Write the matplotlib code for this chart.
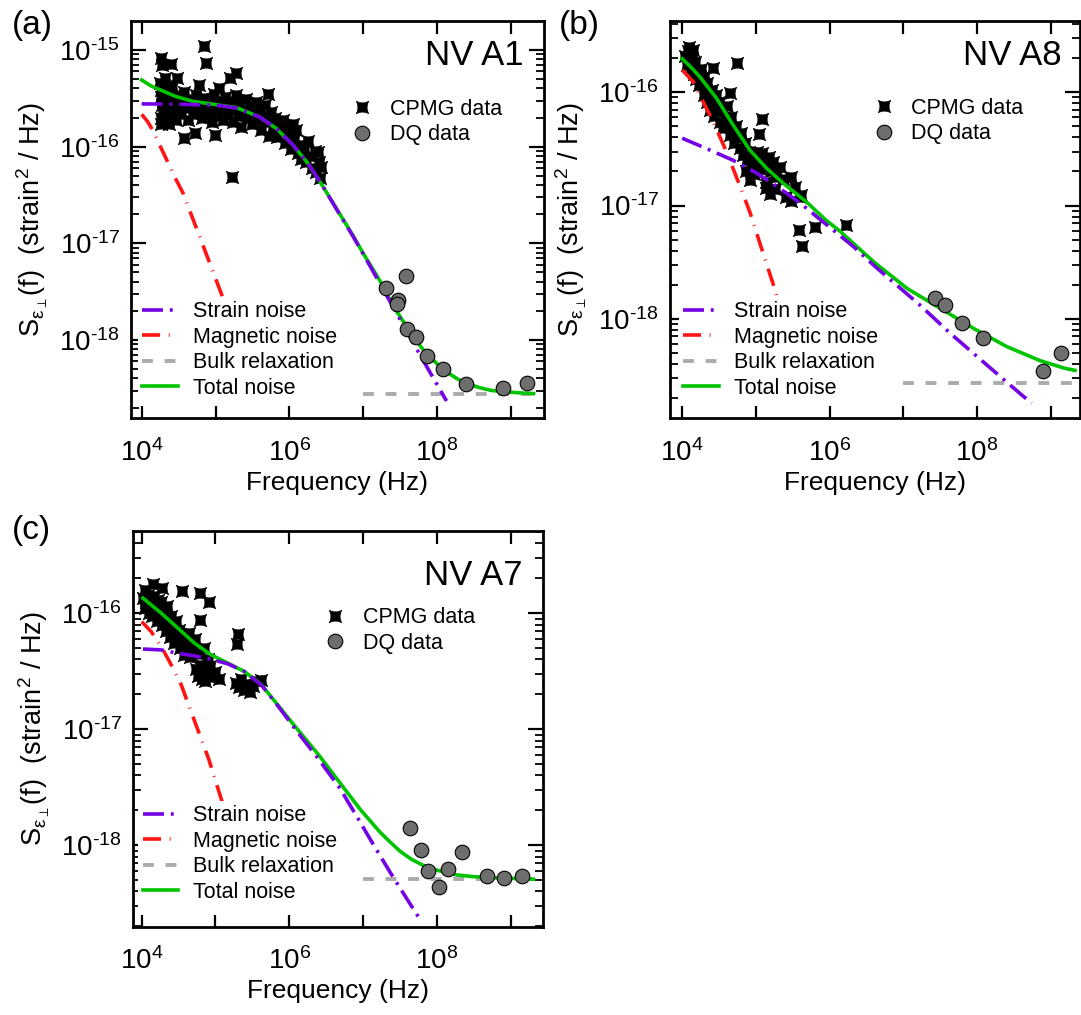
import numpy as np
import matplotlib
matplotlib.use('Agg')
import matplotlib.pyplot as plt
from matplotlib.path import Path
from matplotlib.ticker import FixedLocator, FuncFormatter, NullLocator, NullFormatter

plt.rcParams['font.family'] = ['Liberation Sans', 'DejaVu Sans']
plt.rcParams['mathtext.fontset'] = 'custom'
plt.rcParams['mathtext.rm'] = 'Liberation Sans'
plt.rcParams['mathtext.it'] = 'Liberation Sans:italic'
plt.rcParams['mathtext.bf'] = 'Liberation Sans:bold'
plt.rcParams['axes.unicode_minus'] = False

# ---------------- panel (a) : NV A1 ----------------
a_cpmg_f = [7.05e4, 7.4e4, 1.83e4, 1.86e4, 2.5e4, 1.9e5, 1.57e5, 2.1e4, 2.98e4, 2.13e4, 5.9e4, 1.12e5, 5.1e5,
            1.68e5, 1.83e4, 2.37e4, 3.78e4, 5.2e4, 9.9e4, 1.11e6, 9.0e5, 2.43e6,
            1.75e4, 1.8e4, 1.85e4, 1.9e4, 1.95e4, 2.0e4, 2.1e4, 2.2e4, 2.25e4, 2.3e4, 2.4e4, 2.5e4, 2.6e4,
            2.7e4, 2.8e4, 2.9e4, 3.0e4, 1.8e4,
            3.2e4, 3.4e4, 3.6e4, 3.8e4, 4.0e4, 4.2e4, 4.5e4, 4.8e4, 5.0e4, 5.4e4, 5.8e4, 6.2e4, 6.6e4, 7.0e4,
            7.5e4, 8.0e4, 8.5e4, 9.0e4, 9.5e4, 1.0e5, 1.05e5, 1.1e5, 1.2e5, 1.25e5,
            1.35e5, 1.4e5, 1.5e5, 1.6e5, 1.7e5, 1.8e5, 1.9e5, 2.0e5, 2.1e5, 2.25e5, 2.4e5, 2.6e5, 2.7e5, 2.9e5,
            3.1e5, 3.3e5, 3.5e5, 3.7e5,
            4.0e5, 4.2e5, 4.4e5, 4.7e5, 5.0e5, 5.3e5, 5.6e5, 6.0e5, 6.4e5, 6.8e5, 7.2e5,
            7.8e5, 8.2e5, 8.7e5, 9.3e5, 1.0e6, 1.05e6, 1.15e6, 1.25e6, 1.3e6, 1.4e6, 1.45e6,
            1.6e6, 1.7e6, 1.8e6, 1.9e6, 2.0e6, 2.2e6, 2.3e6, 2.5e6, 2.6e6, 2.7e6]
a_cpmg_s = np.array([11.1, 7.4, 8.2, 7.0, 7.1, 5.74, 5.1, 5.1, 5.1, 4.2, 4.3, 4.07, 3.48,
                     0.49, 1.72, 1.7, 1.22, 1.4, 1.33, 1.72, 1.5, 0.89,
                     4.6, 3.9, 3.3, 2.7, 2.3, 4.3, 3.6, 3.0, 2.5, 2.1, 3.4, 2.8, 4.1,
                     2.3, 3.1, 1.9, 2.6, 2.0,
                     3.4, 2.2, 2.9, 3.7, 2.5, 1.9, 3.1, 2.7, 2.2, 3.4, 2.4, 2.9, 2.0, 3.2,
                     2.6, 2.2, 2.9, 1.8, 3.5, 2.5, 2.1, 3.0, 2.4, 1.9,
                     3.3, 2.7, 2.2, 3.0, 1.8, 2.5, 3.4, 2.1, 2.8, 1.6, 2.4, 3.1, 2.0, 2.6,
                     1.7, 2.3, 2.9, 1.9,
                     2.5, 1.5, 2.1, 2.7, 1.8, 1.3, 2.3, 1.6, 2.0, 1.25, 1.75,
                     1.45, 1.9, 1.1, 1.6, 1.3, 0.95, 1.2, 1.5, 0.85, 1.05, 0.75,
                     0.95, 0.7, 1.15, 0.8, 0.6, 0.9, 0.55, 0.7, 0.47, 0.62]) * 1e-16
a_dq_f = [3.8e7, 2.04e7, 3.0e7, 2.85e7, 3.98e7, 5.2e7, 7.24e7, 1.22e8, 2.45e8, 7.94e8, 1.65e9]
a_dq_s = [4.63e-18, 3.47e-18, 2.57e-18, 2.34e-18, 1.30e-18, 1.08e-18, 6.84e-19, 5.06e-19, 3.52e-19, 3.2e-19, 3.63e-19]
a_strain_f = [1e4, 3.16e4, 9.1e4, 1.26e5, 1.9e5, 3.9e5, 6.6e5, 1.11e6, 1.86e6, 2.95e6, 4.47e6, 7.36e6, 1e7,
              1.7e7, 3.89e7, 6.17e7, 1.35e8]
a_strain_s = [2.77e-16, 2.75e-16, 2.69e-16, 2.63e-16, 2.51e-16, 2.04e-16, 1.55e-16, 1.05e-16, 6.46e-17, 3.72e-17,
              2.19e-17, 1.17e-17, 7.8e-18, 3.8e-18, 1.24e-18, 6.6e-19, 2.34e-19]
a_mag_f = [1e4, 1.2e4, 1.41e4, 1.74e4, 2.24e4, 2.92e4, 3.63e4, 6.3e4, 1.24e5, 4.54e5]
a_mag_s = [2.16e-16, 1.82e-16, 1.48e-16, 1.05e-16, 7.0e-17, 4.57e-17, 3.31e-17, 1.1e-17, 2.82e-18, 2.09e-19]
a_bulk_f = [1e7, 2.04e9]
a_bulk_s = [2.75e-19, 2.75e-19]
a_total_f = [1e4, 1.32e4, 1.74e4, 2.88e4, 4.9e4, 9.1e4, 1.9e5, 3.9e5, 6.6e5, 1.11e6, 1.86e6, 2.95e6, 4.47e6,
             7.36e6, 1e7, 1.7e7, 2.6e7, 3.89e7, 5.4e7, 7.24e7, 1.0e8, 1.35e8, 1.85e8, 2.51e8, 3.6e8, 5.25e8,
             8.5e8, 1.55e9, 2.04e9]
a_total_s = [4.9e-16, 4.27e-16, 3.9e-16, 3.31e-16, 2.95e-16, 2.75e-16, 2.54e-16, 2.04e-16, 1.55e-16, 1.05e-16,
             6.46e-17, 3.72e-17, 2.21e-17, 1.19e-17, 7.9e-18, 4.07e-18, 2.2e-18, 1.38e-18, 9.5e-19, 7.2e-19,
             5.7e-19, 4.68e-19, 4.0e-19, 3.55e-19, 3.25e-19, 3.02e-19, 2.9e-19, 2.82e-19, 2.79e-19]

# ---------------- panel (b) : NV A8 ----------------
b_cpmg_f = [1.1e4, 1.15e4, 1.2e4, 1.25e4, 1.3e4, 1.35e4, 1.4e4, 1.45e4, 1.5e4, 1.55e4, 1.6e4, 1.7e4, 1.75e4,
            1.8e4, 1.9e4, 1.95e4, 2.0e4, 2.1e4, 2.2e4, 2.2e4, 2.3e4, 2.4e4, 2.5e4, 2.6e4, 2.7e4, 2.8e4, 2.9e4,
            3.0e4, 3.2e4, 3.3e4, 3.5e4, 3.6e4, 3.8e4, 4.0e4, 4.2e4, 4.4e4, 4.6e4, 4.8e4, 5.0e4, 5.3e4, 5.6e4,
            6.0e4, 6.3e4, 6.7e4, 7.0e4, 7.5e4, 8.0e4, 8.5e4, 9.0e4, 9.5e4, 1.0e5, 1.05e5, 1.1e5, 1.15e5, 1.2e5,
            1.3e5, 1.35e5, 1.4e5, 1.5e5, 1.6e5, 1.7e5, 1.8e5, 1.9e5, 2.1e5, 2.3e5, 2.6e5, 3.0e5, 3.4e5, 4.0e5,
            1.23e4, 1.38e4, 2.6e4, 5.55e4, 4.4e4, 1.21e5, 1.09e5, 3.86e5, 6.3e5, 1.65e6, 4.16e5, 7.4e4, 8.25e4,
            1.39e5, 1.55e5, 3.0e5, 4.13e5]
b_cpmg_s = np.array([21, 17.5, 23, 19, 16, 20, 17, 14.5, 18.5, 13, 15.5, 11.5, 14,
                     16, 12, 9.5, 13.5, 10.5, 8.2, 12, 9.5, 7.0, 10.5, 8.5, 6.2, 7.8, 9.5,
                     6.8, 8.2, 5.5, 7.0, 4.8, 6.0, 7.5, 5.2, 4.2, 6.0, 4.6, 3.6, 5.0, 4.0,
                     3.2, 4.4, 2.8, 3.6, 2.5, 3.0, 2.2, 2.7, 1.9, 2.4, 3.0, 2.6, 2.1, 2.9,
                     2.5, 1.6, 2.2, 2.7, 2.0, 2.4, 1.4, 1.8, 2.2, 1.7, 1.2, 1.1, 1.45, 1.2,
                     25, 23.7, 16.3, 18.2, 9.8, 5.8, 4.25, 0.61, 0.65, 0.67, 0.44, 2.0, 1.68,
                     1.42, 1.27, 1.8, 1.24]) * 1e-17
b_dq_f = [2.7e7, 3.73e7, 6.34e7, 1.2e8, 7.94e8, 1.36e9]
b_dq_s = [1.54e-18, 1.32e-18, 9.2e-19, 6.8e-19, 3.47e-19, 4.97e-19]
b_strain_f = [1e4, 2.37e4, 4.9e4, 1.0e5, 2.0e5, 4.0e5, 7.33e5, 2.11e6, 4.16e6, 1.69e7, 4.33e7, 8.93e7,
              1.95e8, 4.05e8, 5.53e8]
b_strain_s = [3.93e-17, 3.09e-17, 2.51e-17, 1.95e-17, 1.45e-17, 1.05e-17, 7.6e-18, 4.34e-18, 2.89e-18, 1.32e-18,
              7.46e-19, 4.97e-19, 3.2e-19, 2.13e-19, 1.8e-19]
b_mag_f = [1e4, 1.41e4, 1.92e4, 2.63e4, 3.98e4, 5.74e4, 8.24e4, 1.25e5, 1.82e5, 5.0e5]
b_mag_s = [1.57e-16, 1.24e-16, 8.24e-17, 5.5e-17, 2.99e-17, 1.63e-17, 8.83e-18, 3.8e-18, 1.8e-18, 2.0e-19]
b_bulk_f = [1e7, 2.2e9]
b_bulk_s = [2.73e-19, 2.73e-19]
b_total_f = [1e4, 1.32e4, 1.73e4, 2.92e4, 4.9e4, 8.26e4, 1.39e5, 2.33e5, 4.83e5, 9.0e5, 1.4e6, 3.94e6, 1.12e7,
             3.16e7, 8.93e7, 2.54e8, 7.16e8, 1.56e9, 2.14e9]
b_total_s = [1.97e-16, 1.66e-16, 1.37e-16, 8.85e-17, 5.14e-17, 3.09e-17, 2.14e-17, 1.58e-17, 1.08e-17, 7.4e-18,
             5.9e-18, 3.2e-18, 1.86e-18, 1.24e-18, 8.26e-19, 5.69e-19, 4.28e-19, 3.66e-19, 3.51e-19]

# ---------------- panel (c) : NV A7 ----------------
c_cpmg_f = [1.05e4, 1.1e4, 1.1e4, 1.15e4, 1.2e4, 1.25e4, 1.3e4, 1.35e4, 1.4e4, 1.45e4, 1.5e4, 1.55e4, 1.6e4,
            1.65e4, 1.7e4, 1.8e4, 1.85e4, 1.9e4, 2.0e4, 2.1e4, 2.15e4, 2.2e4, 2.3e4, 2.4e4, 2.5e4, 2.6e4, 2.7e4,
            2.8e4, 2.9e4, 3.0e4, 3.2e4, 3.3e4, 3.5e4, 3.7e4, 3.8e4, 4.0e4, 4.2e4, 4.4e4, 4.5e4, 4.8e4, 5.0e4,
            5.3e4, 5.5e4, 5.8e4, 6.0e4, 6.2e4, 6.5e4, 6.8e4, 7.0e4, 7.2e4, 7.5e4, 7.8e4, 8.0e4, 8.5e4, 9.0e4,
            1.0e5, 1.1e5, 1.9e5, 2.1e5, 2.2e5, 2.4e5, 2.6e5, 2.9e5, 3.2e5, 3.5e5,
            1.43e4, 1.9e4, 3.55e4, 6.2e4, 8.2e4, 6.2e4, 2.0e5, 1.95e5, 4.17e5]
c_cpmg_s = np.array([13.5, 16, 11, 12.5, 14.5, 10, 13, 11.5, 9.5, 14, 12, 10.5, 8.5,
                     13, 11, 9.5, 12.5, 8, 10.5, 9, 7, 11.5, 8.2, 6.2, 9.5, 7.5, 5.5,
                     6.8, 8.5, 6.0, 7.2, 5.0, 6.5, 5.6, 4.4, 6.0, 5.0, 6.7, 4.2, 5.5, 4.7,
                     6.0, 3.3, 2.9, 4.5, 3.6, 2.7, 3.1, 5.0, 2.6, 3.3, 4.0, 2.9, 3.5, 2.8,
                     3.1, 2.7, 2.5, 2.3, 2.7, 2.2, 2.45, 2.1, 2.35, 2.6,
                     17.8, 16.5, 15.6, 15.0, 12.4, 8.8, 6.6, 5.4, 2.67]) * 1e-17
c_dq_f = [4.37e7, 6.03e7, 7.5e7, 1.06e8, 1.4e8, 2.19e8, 4.78e8, 8.1e8, 1.41e9]
c_dq_s = [1.40e-18, 9.1e-19, 6.0e-19, 4.4e-19, 6.2e-19, 8.7e-19, 5.4e-19, 5.26e-19, 5.47e-19]
c_strain_f = [1.04e4, 1.85e4, 3.1e4, 5.22e4, 8.77e4, 1.48e5, 2.48e5, 4.17e5, 6.67e5, 1.21e6, 2.51e6, 4.86e6,
              8.18e6, 1.37e7, 2.31e7, 3.9e7, 5.6e7]
c_strain_s = [4.92e-17, 4.83e-17, 4.52e-17, 4.29e-17, 4.01e-17, 3.66e-17, 3.14e-17, 2.41e-17, 1.66e-17, 1.0e-17,
              5.5e-18, 3.09e-18, 1.78e-18, 1.02e-18, 5.89e-19, 3.47e-19, 2.42e-19]
c_mag_f = [1e4, 1.35e4, 1.85e4, 2.52e4, 3.44e4, 4.24e4, 8.04e4, 3.67e5]
c_mag_s = [8.47e-17, 6.93e-17, 5.15e-17, 3.58e-17, 2.41e-17, 1.67e-17, 5.6e-18, 2.6e-19]
c_bulk_f = [1e7, 2.04e9]
c_bulk_s = [5.09e-19, 5.09e-19]
c_total_f = [1.04e4, 1.85e4, 3.1e4, 5.22e4, 8.77e4, 1.48e5, 2.48e5, 4.17e5, 6.67e5, 1.21e6, 2.51e6, 4.86e6,
             9.08e6, 1.69e7, 2.31e7, 3.16e7, 4.47e7, 6.55e7, 1.0e8, 1.85e8, 3.16e8, 5.25e8, 1.56e9, 2.04e9]
c_total_s = [1.35e-16, 1.0e-16, 7.43e-17, 5.51e-17, 4.37e-17, 3.71e-17, 3.14e-17, 2.43e-17, 1.68e-17, 1.05e-17,
             6.0e-18, 3.45e-18, 2.05e-18, 1.3e-18, 1.07e-18, 8.9e-19, 7.6e-19, 6.7e-19, 6.1e-19, 5.55e-19,
             5.36e-19, 5.26e-19, 5.13e-19, 5.1e-19]

# colours
purple = '#7400e6'
red = '#ff1414'
grey = '#ababab'
green = '#00c400'
dqgrey = '#6e6e6e'

# four pointed star marker used for the CPMG points
c = 0.45
star = Path([(1, 1), (0, c), (-1, 1), (-c, 0), (-1, -1), (0, -c), (1, -1), (c, 0), (1, 1), (1, 1)],
            [Path.MOVETO, Path.CURVE3, Path.CURVE3, Path.CURVE3, Path.CURVE3,
             Path.CURVE3, Path.CURVE3, Path.CURVE3, Path.CURVE3, Path.CLOSEPOLY])


def tick_label(v, pos, every=1):
    e = int(round(np.log10(v)))
    if e % every != 0:
        return ''
    # hyphen instead of the long math minus, like the original
    return r'$\mathdefault{10^{%s}}$' % str(e).replace('-', '\u2010')


def panel(ax, cf, cs, df, ds, sf, ss, mf, ms, bf, bs, tf, ts, name, xlim, ylim, leg1, leg2, namepos):
    ax.set_xscale('log')
    ax.set_yscale('log')

    ax.plot(cf, cs, ls='none', marker=star, ms=9, mfc='black', mec='black', mew=0.5,
            zorder=2, label='CPMG data')
    ax.plot(mf, ms, color=red, lw=2.6, dashes=(5.0, 2.4, 0.25, 2.4), zorder=3, label='Magnetic noise')
    ax.plot(bf, bs, color=grey, lw=2.8, dashes=(2.8, 3.0), zorder=3, label='Bulk relaxation')
    ax.plot(tf, ts, color=green, lw=2.6, zorder=4, label='Total noise')
    ax.plot(sf, ss, color=purple, lw=2.6, dashes=(5.8, 1.9, 0.8, 1.9), zorder=5, label='Strain noise')
    ax.plot(df, ds, ls='none', marker='o', ms=10.5, mfc=dqgrey, mec='black', mew=0.8, zorder=6,
            label='DQ data')

    ax.set_xlim(*xlim)
    ax.set_ylim(*ylim)

    lo = int(np.ceil(np.log10(ylim[0])))
    hi = int(np.floor(np.log10(ylim[1])))
    ax.xaxis.set_major_locator(FixedLocator([1e4, 1e5, 1e6, 1e7, 1e8, 1e9]))
    ax.xaxis.set_major_formatter(FuncFormatter(lambda v, p: tick_label(v, p, 2)))
    ax.xaxis.set_minor_locator(NullLocator())
    ax.yaxis.set_major_locator(FixedLocator([10.0 ** k for k in range(lo, hi + 1)]))
    ax.yaxis.set_major_formatter(FuncFormatter(lambda v, p: tick_label(v, p, 1)))
    minors = [m * 10.0 ** k for k in range(lo - 1, hi + 1) for m in range(2, 10)]
    minors = [m for m in minors if ylim[0] < m < ylim[1]]
    ax.yaxis.set_minor_locator(FixedLocator(minors))
    ax.yaxis.set_minor_formatter(NullFormatter())

    ax.tick_params(which='both', direction='in', top=True, right=True)
    ax.tick_params(axis='x', which='major', length=9, width=1.6, pad=15, labelsize=20)
    ax.tick_params(axis='y', which='major', length=11, width=1.6, pad=8, labelsize=20)
    ax.tick_params(axis='y', which='minor', length=6, width=1.3)
    for s in ax.spines.values():
        s.set_linewidth(2)

    ax.set_xlabel('Frequency (Hz)', fontsize=19, labelpad=3)
    ax.set_ylabel(r'S$_{\mathregular{ε}_{\perp}}$(f)  (strain$^{2}$ / Hz)', fontsize=19.5)
    ax.yaxis.set_label_coords(-0.197, 0.5)

    h = {l.get_label(): l for l in ax.get_lines()}
    l1 = ax.legend([h['Strain noise'], h['Magnetic noise'], h['Bulk relaxation'], h['Total noise']],
                   ['Strain noise', 'Magnetic noise', 'Bulk relaxation', 'Total noise'],
                   loc='upper left', bbox_to_anchor=leg1, fontsize=15.5, handlelength=1.67,
                   handletextpad=0.67, labelspacing=0.21, borderpad=0.2, borderaxespad=0,
                   frameon=True, fancybox=False, edgecolor='none', facecolor='white', framealpha=1)
    l1.set_zorder(10)
    ax.add_artist(l1)
    l2 = ax.legend([h['CPMG data'], h['DQ data']], ['CPMG data', 'DQ data'],
                   loc='upper left', bbox_to_anchor=leg2, fontsize=15.5, handlelength=1.0,
                   handletextpad=0.8, labelspacing=0.21, borderpad=0.2, borderaxespad=0,
                   frameon=True, fancybox=False, edgecolor='none', facecolor='white', framealpha=1)
    l2.set_zorder(10)

    ax.text(namepos[0], namepos[1], name, transform=ax.transAxes, ha='right', va='center', fontsize=25)


fig = plt.figure(figsize=(10.81, 10.15), dpi=100)
ax1 = fig.add_axes([0.12118, 0.58818, 0.38206, 0.39113])
ax2 = fig.add_axes([0.61980, 0.58818, 0.37927, 0.39113])
ax3 = fig.add_axes([0.12303, 0.08700, 0.37928, 0.39014])

panel(ax1, a_cpmg_f, a_cpmg_s, a_dq_f, a_dq_s, a_strain_f, a_strain_s, a_mag_f, a_mag_s,
      a_bulk_f, a_bulk_s, a_total_f, a_total_s, 'NV A1',
      (10 ** 3.855, 10 ** 9.451), (10 ** -18.807, 10 ** -14.70), (0.0174, 0.305), (0.522, 0.815), (0.951, 0.912))
panel(ax2, b_cpmg_f, b_cpmg_s, b_dq_f, b_dq_s, b_strain_f, b_strain_s, b_mag_f, b_mag_s,
      b_bulk_f, b_bulk_s, b_total_f, b_total_s, 'NV A8',
      (10 ** 3.834, 10 ** 9.398), (10 ** -18.875, 10 ** -15.371), (0.0217, 0.305), (0.484, 0.818), (0.956, 0.912))
panel(ax3, c_cpmg_f, c_cpmg_s, c_dq_f, c_dq_s, c_strain_f, c_strain_s, c_mag_f, c_mag_s,
      c_bulk_f, c_bulk_s, c_total_f, c_total_s, 'NV A7',
      (10 ** 3.882, 10 ** 9.438), (10 ** -18.702, 10 ** -15.288), (0.0127, 0.318), (0.455, 0.818), (0.951, 0.888))

fig.text(0.011, 0.975, '(a)', fontsize=24, ha='left', va='center')
fig.text(0.517, 0.975, '(b)', fontsize=24, ha='left', va='center')
fig.text(0.011, 0.477, '(c)', fontsize=24, ha='left', va='center')

plt.savefig('out.png', dpi=100)
